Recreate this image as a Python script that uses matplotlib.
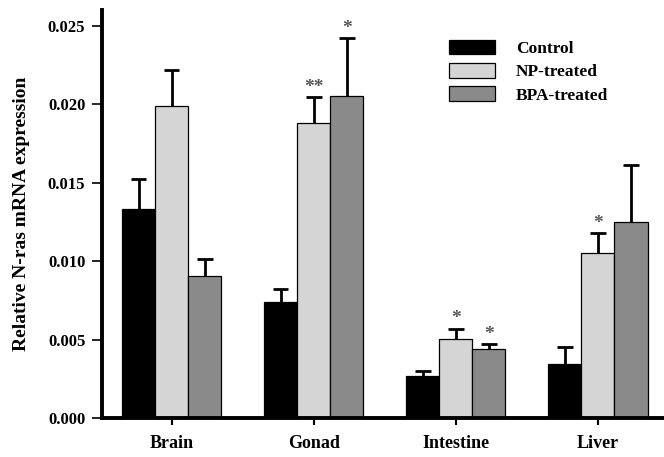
import matplotlib
matplotlib.use("Agg")
import matplotlib.pyplot as plt
import numpy as np

categories = ["Brain", "Gonad", "Intestine", "Liver"]
series = ["Control", "NP-treated", "BPA-treated"]
control = [0.01335, 0.00739, 0.00268, 0.00344]
control_err = [0.00190, 0.00083, 0.00032, 0.00108]
np_treated = [0.01987, 0.01879, 0.00503, 0.01050]
np_err = [0.00228, 0.00166, 0.00064, 0.00128]
bpa_treated = [0.00904, 0.02050, 0.00440, 0.01248]
bpa_err = [0.00109, 0.00370, 0.00031, 0.00362]
np_stars = ["", "**", "*", "*"]
bpa_stars = ["", "*", "*", ""]
yticks = [0.000, 0.005, 0.010, 0.015, 0.020, 0.025]

plt.rcParams['font.family'] = ['Liberation Serif', 'DejaVu Serif']
plt.rcParams['font.weight'] = 'bold'

fig = plt.figure(figsize=(6.64, 4.57), dpi=100)
ax = fig.add_axes([0.1536, 0.0853, 0.8464, 0.8927])

x = np.arange(len(categories))
w = 0.233
cap = 0.055
colors = ["#000000", "#d5d5d5", "#8a8a8a"]
data = [(control, control_err), (np_treated, np_err), (bpa_treated, bpa_err)]
for i, ((vals, errs), c, lab) in enumerate(zip(data, colors, series)):
    pos = x + (i - 1) * w
    vals = np.array(vals)
    errs = np.array(errs)
    ax.bar(pos, vals, width=w, color=c, edgecolor="black", linewidth=0.9, label=lab, zorder=2)
    ax.vlines(pos, vals, vals + errs, colors="black", linewidth=2, zorder=3)
    ax.hlines(vals + errs, pos - cap, pos + cap, colors="black", linewidth=2, zorder=3)

for stars, (vals, errs), off in [(np_stars, data[1], 0), (bpa_stars, data[2], 1)]:
    for j, s in enumerate(stars):
        if s:
            ax.text(x[j] + off * w, vals[j] + errs[j] + 0.0001, s, ha="center", va="bottom",
                    fontsize=14, color="#555555", fontweight="bold")

ax.set_xlim(-0.49, 3.465)
ax.set_ylim(0, 0.026)
ax.set_yticks(yticks)
ax.set_yticklabels([f"{t:.3f}" for t in yticks], fontsize=12, fontweight="bold")
ax.set_xticks(x)
ax.set_xticklabels(categories, fontsize=13, fontweight="bold")
ax.set_ylabel("Relative N-ras mRNA expression", fontsize=14, fontweight="bold")
ax.yaxis.set_label_coords(-0.128, 0.5)

for sp in ["top", "right"]:
    ax.spines[sp].set_visible(False)
for sp in ["left", "bottom"]:
    ax.spines[sp].set_linewidth(2.8)
ax.tick_params(axis="y", direction="out", length=7, width=1.2, pad=5)
ax.tick_params(axis="x", direction="out", length=5, width=1.5, pad=7)

ax.legend(loc="upper left", bbox_to_anchor=(0.59, 0.965), frameon=False,
          handlelength=2.65, handleheight=0.9, handletextpad=1.2, labelspacing=0.35,
          prop={'weight': 'bold', 'size': 12.5})

fig.savefig("out.png", dpi=100)
